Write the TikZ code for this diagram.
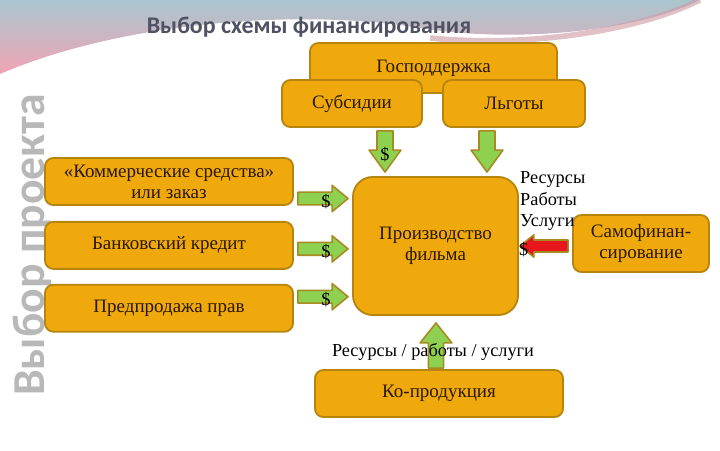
\documentclass[tikz,border=0pt]{standalone}
\usepackage{fontspec}
\setmainfont{Liberation Serif}
\newfontfamily\headfont{Carlito}
\usepackage{xcolor}
\definecolor{boxfill}{HTML}{EFA90D}
\definecolor{boxline}{HTML}{B5850E}
\definecolor{boxtext}{HTML}{2A1805}
\definecolor{arrgreen}{HTML}{8ED04F}
\definecolor{arrline}{HTML}{A88A22}
\definecolor{arrred}{HTML}{E8171B}
\definecolor{titlegray}{HTML}{4E5263}
\definecolor{sidegray}{HTML}{B8B8B8}
\definecolor{swblue}{HTML}{A9C6CF}
\definecolor{swpink}{HTML}{F0A4B4}
\usetikzlibrary{positioning,calc}

% block arrow: fill, from, to, shaft half width, head half width, head length
\newcommand{\blockarr}[6]{%
  \coordinate (hb) at ($(#3)!#6!(#2)$);
  \filldraw[fill=#1, draw=arrline, line width=1.1pt, line join=round]
    ($(#2)!#4!90:(#3)$) -- ($(hb)!#4!90:(#3)$) -- ($(hb)!#5!90:(#3)$)
    -- (#3) -- ($(hb)!#5!-90:(#3)$) -- ($(hb)!#4!-90:(#3)$)
    -- ($(#2)!#4!-90:(#3)$) -- cycle;
}

\begin{document}
\begin{tikzpicture}[
  x=0.025cm, y=-0.025cm,
  box/.style={
    rectangle, rounded corners=6pt,
    draw=boxline, fill=boxfill,
    line width=1.3pt, text=boxtext, align=center,
    font=\fontsize{13.5}{15}\selectfont, inner sep=2pt
  },
  wide/.style={box, minimum width=6.2cm, minimum height=1.175cm},
  dollar/.style={font=\fontsize{13}{14}\selectfont, text=black, inner sep=0pt},
  plain/.style={font=\fontsize{13}{15.3}\selectfont, text=black, inner sep=0pt}
]
\useasboundingbox (0,0) rectangle (720,450);
\fill[white] (0,0) rectangle (720,450);

% top swoosh
\shade[top color=swblue, bottom color=swpink]
  (0,0) -- (0,74) .. controls (120,22) and (300,8) .. (420,28)
  .. controls (520,44) and (640,30) .. (700,0) -- cycle;
\draw[line width=4pt, swpink!70!gray, opacity=0.6]
  (430,38) .. controls (530,48) and (640,30) .. (700,0);

\node[font=\headfont\bfseries\fontsize{17}{19}\selectfont, text=titlegray] (title)
  at (309,27) {Выбор схемы финансирования};
\node[font=\headfont\bfseries\fontsize{32.5}{34}\selectfont, text=sidegray, rotate=90, anchor=base, inner sep=0pt] (side)
  at (44,245) {Выбор проекта};

\node[box, minimum width=6.175cm, minimum height=1.25cm] (gos) at (433.5,68) {Господдержка};
\node[box, minimum width=3.5cm, minimum height=1.175cm] (subs) at (352,103.5) {Субсидии};
\node[box, minimum width=3.55cm, minimum height=1.175cm] (lgot) at (514,103.5) {Льготы};

\node[wide] (comm) at (169,181.5) {«Коммерческие средства»\\или заказ};
\node[wide, below=0.375cm of comm] (bank) {Банковский кредит};
\node[wide, below=0.35cm of bank] (presale) {Предпродажа прав};

\node[box, minimum width=4.125cm, minimum height=3.45cm, rounded corners=14pt] (prod)
  at (435.5,246) {Производство\\фильма};
\node[box, minimum width=3.4cm, minimum height=1.425cm] (self) at (641,243.5) {Самофинан-\\сирование};
\node[wide] (kopr) at (439,393.5) {Ко-продукция};

\node[plain, anchor=west, align=left] (res) at ($(prod.east)+(1,-45)$) {Ресурсы\\Работы\\Услуги};

% arrows from the state support
\coordinate (s1) at ($(subs.south)+(33,3)$);
\coordinate (e1) at ($(s1 |- prod.north)+(0,-4)$);
\blockarr{arrgreen}{s1}{e1}{0.2cm}{0.4cm}{0.55cm}
\node[dollar] at ($(s1)!0.58!(e1)$) {\$};
\coordinate (s2) at ($(lgot.south)+(-27,3)$);
\coordinate (e2) at ($(s2 |- prod.north)+(0,-4)$);
\blockarr{arrgreen}{s2}{e2}{0.2cm}{0.4cm}{0.55cm}

% arrows from the left column
\foreach \src/\dy in {comm/17, bank/3.5, presale/-11.5}{
  \coordinate (ls) at ($(\src.east)+(4,\dy)$);
  \coordinate (le) at ($(ls -| prod.west)+(-4,0)$);
  \blockarr{arrgreen}{ls}{le}{0.16cm}{0.33cm}{0.4cm}
  \node[dollar] at ($(ls)!0.56!(le)+(0,3)$) {\$};
}

% self financing
\coordinate (rs) at ($(self.west)+(-4,2.5)$);
\coordinate (re) at ($(rs -| prod.east)+(1,0)$);
\blockarr{arrred}{rs}{re}{0.15cm}{0.28cm}{0.35cm}
\node[dollar] at ($(rs)!0.92!(re)+(0,4)$) {\$};

% co-production
\coordinate (us) at ($(kopr.north)+(-3,-1)$);
\coordinate (ue) at ($(us |- prod.south)+(0,7)$);
\blockarr{arrgreen}{us}{ue}{0.19cm}{0.4cm}{0.5cm}
\node[plain] (resline) at ($(kopr.north)+(-6,-17)$) {Ресурсы / работы / услуги};
\end{tikzpicture}
\end{document}
